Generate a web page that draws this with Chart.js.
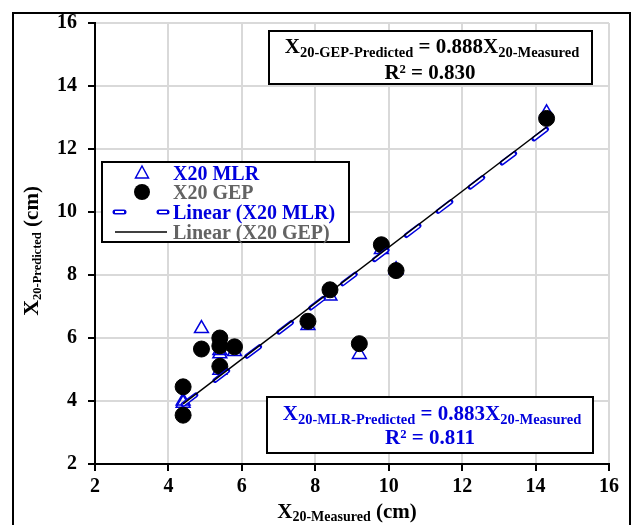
<!DOCTYPE html>
<html>
<head>
<meta charset="utf-8">
<script src="https://cdn.jsdelivr.net/npm/chart.js@4.4.1/dist/chart.umd.min.js"></script>
<style>
  body { margin: 0; background: #fff; }
  #wrap { width: 636px; height: 525px; }
</style>
</head>
<body>
<div id="wrap"><canvas id="myChart" width="636" height="525"></canvas></div>
<script>
// X20 measured vs predicted (cm)
let measured     = [4.4, 4.4, 4.9, 5.4, 5.4, 5.4, 5.8, 7.8, 8.4, 9.2, 9.8, 10.2, 14.3];
let gepPredicted = [3.55, 4.45, 5.65, 6.0, 5.75, 5.1, 5.72, 6.53, 7.53, 5.82, 8.96, 8.14, 12.97];
let mlrPredicted = [3.93, 4.0, 6.3, 5.6, 5.5, 4.98, 5.57, 6.4, 7.33, 5.48, 8.81, 8.17, 13.15];
let tickValues = [2, 4, 6, 8, 10, 12, 14, 16];
let slopeGEP = 0.888;
let slopeMLR = 0.883;
let r2GEP = "0.830";
let r2MLR = "0.811";

const BLUE = "#0000dd";
const GRAY = "#636363";
const SERIF = "'Liberation Serif', 'Times New Roman', serif";

let gepPts = measured.map((x, i) => ({ x: x, y: gepPredicted[i] }));
let mlrPts = measured.map((x, i) => ({ x: x, y: mlrPredicted[i] }));
let xMin = Math.min(...measured), xMax = Math.max(...measured);
let gepLine = [{ x: xMin, y: slopeGEP * xMin }, { x: xMax, y: slopeGEP * xMax }];
let mlrLine = [{ x: xMin, y: slopeMLR * xMin }, { x: xMax, y: slopeMLR * xMax }];

// draws a row of text pieces [text, size, shift]
function runs(ctx, parts, x, y, align) {
  let total = 0;
  parts.forEach(p => { ctx.font = "bold " + p[1] + "px " + SERIF; total += ctx.measureText(p[0]).width; });
  let cx = align === "center" ? x - total / 2 : x;
  ctx.textAlign = "left";
  ctx.textBaseline = "alphabetic";
  parts.forEach(p => {
    ctx.font = "bold " + p[1] + "px " + SERIF;
    ctx.fillText(p[0], cx, y + (p[2] || 0));
    cx += ctx.measureText(p[0]).width;
  });
}

function box(ctx, x1, y1, x2, y2) {
  ctx.fillStyle = "#fff";
  ctx.fillRect(x1, y1, x2 - x1, y2 - y1);
  ctx.strokeStyle = "#000";
  ctx.lineWidth = 2;
  ctx.strokeRect(x1, y1, x2 - x1, y2 - y1);
}

const extras = {
  id: "extras",
  beforeDraw(chart) {
    let ctx = chart.ctx;
    ctx.save();
    ctx.fillStyle = "#fff";
    ctx.fillRect(0, 0, chart.width, chart.height);
    ctx.strokeStyle = "#000";
    ctx.lineWidth = 2;
    ctx.strokeRect(13, 13, 617, 540);
    ctx.restore();
  },
  afterDraw(chart) {
    let ctx = chart.ctx;
    ctx.save();

    // axis titles
    ctx.fillStyle = "#000";
    runs(ctx, [["X", 21], ["20-Measured", 14, 3], [" (cm)", 21]], 347, 518, "center");
    ctx.save();
    ctx.translate(38, 251);
    ctx.rotate(-Math.PI / 2);
    runs(ctx, [["X", 22], ["20-Predicted", 12.5, 3], [" (cm)", 21]], 0, 0, "center");
    ctx.restore();

    // GEP equation
    box(ctx, 269, 31, 592, 84);
    ctx.fillStyle = "#000";
    runs(ctx, [["X", 21], ["20-GEP-Predicted", 14.5, 4], [" = " + slopeGEP.toFixed(3) + "X", 21], ["20-Measured", 14.5, 4]], 432, 53, "center");
    runs(ctx, [["R\u00b2 = " + r2GEP, 21]], 430, 79, "center");

    // MLR equation
    box(ctx, 267, 397, 593, 453);
    ctx.fillStyle = BLUE;
    runs(ctx, [["X", 21], ["20-MLR-Predicted", 14.5, 4], [" = " + slopeMLR.toFixed(3) + "X", 21], ["20-Measured", 14.5, 4]], 432, 420, "center");
    runs(ctx, [["R\u00b2 = " + r2MLR, 21]], 430, 444, "center");

    // legend
    box(ctx, 102, 162, 349, 242);
    let rows = [
      [chart.data.datasets[0].label, BLUE, 173],
      [chart.data.datasets[1].label, GRAY, 192],
      [chart.data.datasets[2].label, BLUE, 212],
      [chart.data.datasets[4].label, GRAY, 232]
    ];
    rows.forEach(r => {
      ctx.fillStyle = r[1];
      runs(ctx, [[r[0], 20]], 173, r[2] + 7, "left");
    });
    // triangle
    ctx.strokeStyle = BLUE;
    ctx.lineWidth = 1.5;
    ctx.beginPath();
    ctx.moveTo(142, 166); ctx.lineTo(148.5, 178); ctx.lineTo(135.5, 178); ctx.closePath();
    ctx.stroke();
    // circle
    ctx.fillStyle = "#000";
    ctx.beginPath(); ctx.arc(142, 192, 8, 0, Math.PI * 2); ctx.fill();
    // hollow dashes
    ctx.lineCap = "round";
    [[115, 124], [159, 167]].forEach(d => {
      ctx.strokeStyle = BLUE; ctx.lineWidth = 5;
      ctx.beginPath(); ctx.moveTo(d[0], 212); ctx.lineTo(d[1], 212); ctx.stroke();
    });
    ctx.lineCap = "butt";
    [[115, 124], [159, 167]].forEach(d => {
      ctx.strokeStyle = "#fff"; ctx.lineWidth = 2;
      ctx.beginPath(); ctx.moveTo(d[0], 212); ctx.lineTo(d[1], 212); ctx.stroke();
    });
    // solid line
    ctx.strokeStyle = "#000"; ctx.lineWidth = 1.5;
    ctx.beginPath(); ctx.moveTo(115, 232); ctx.lineTo(167, 232); ctx.stroke();

    ctx.restore();
  }
};

let axisCommon = {
  type: "linear",
  min: 2,
  max: 16,
  afterBuildTicks: s => { s.ticks = tickValues.map(v => ({ value: v })); },
  grid: { color: "#d9d9d9", lineWidth: 2, tickColor: "#000", tickLength: 7, tickWidth: 2 },
  border: { color: "#000", width: 2 },
  title: { display: false }
};

new Chart("myChart", {
  type: "scatter",
  data: {
    datasets: [
      { label: "X20 MLR", data: mlrPts, pointStyle: "triangle", pointRadius: 8, borderColor: BLUE,
        backgroundColor: "rgba(0,0,0,0)", pointBorderWidth: 1.5, order: 5 },
      { label: "X20 GEP", data: gepPts, pointStyle: "circle", pointRadius: 8, borderColor: "#000",
        backgroundColor: "#000", pointBorderWidth: 1, order: 4 },
      { label: "Linear (X20 MLR)", data: mlrLine, showLine: true, borderColor: BLUE, borderWidth: 5,
        borderDash: [16, 24], borderCapStyle: "round", pointRadius: 0, order: 3 },
      { label: "", data: mlrLine, showLine: true, borderColor: "#fff", borderWidth: 2,
        borderDash: [16, 24], borderCapStyle: "butt", pointRadius: 0, order: 2 },
      { label: "Linear (X20 GEP)", data: gepLine, showLine: true, borderColor: "#000", borderWidth: 1.5,
        pointRadius: 0, order: 1 }
    ]
  },
  options: {
    responsive: false,
    animation: false,
    events: [],
    layout: { padding: { left: 0, top: 23, right: 27, bottom: 0 } },
    plugins: { legend: { display: false }, tooltip: { enabled: false } },
    scales: {
      x: Object.assign({}, axisCommon, {
        position: "bottom",
        afterFit: s => { s.height = 61; },
        ticks: { font: { family: SERIF, size: 20, weight: "bold" }, color: "#000", padding: 4, maxRotation: 0 }
      }),
      y: Object.assign({}, axisCommon, {
        position: "left",
        afterFit: s => { s.width = 95; },
        ticks: { font: { family: SERIF, size: 20, weight: "bold" }, color: "#000", padding: 11 }
      })
    }
  },
  plugins: [extras]
});
</script>
</body>
</html>
